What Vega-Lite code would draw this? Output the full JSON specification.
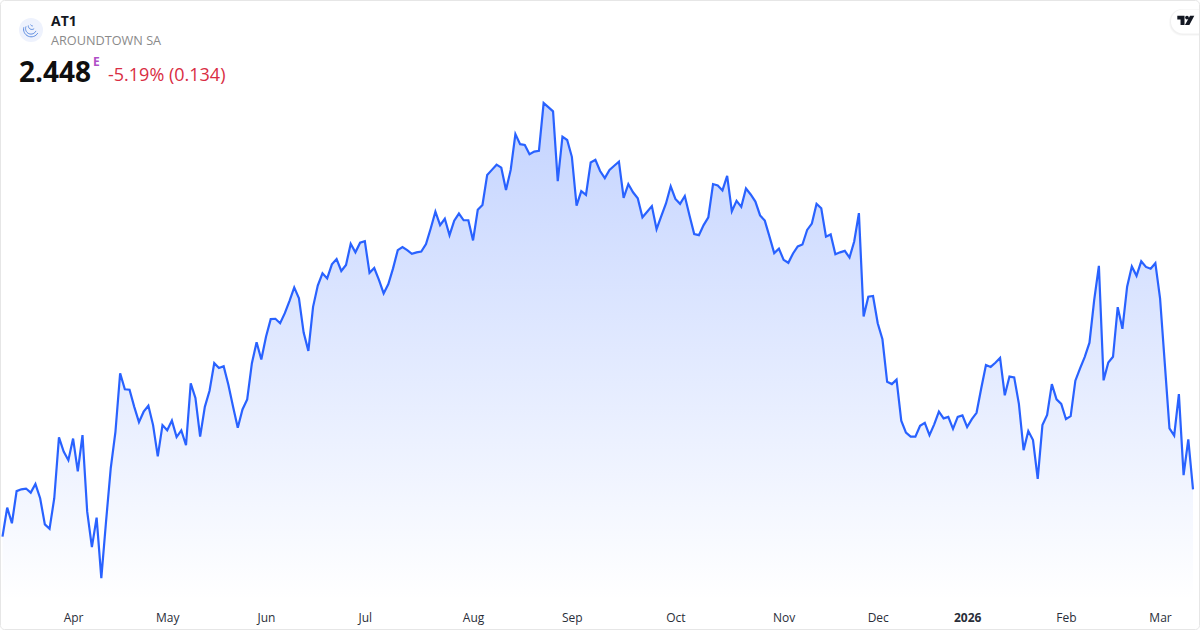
{"$schema":"https://vega.github.io/schema/vega-lite/v6.json","width":1200,"height":630,"padding":0,"autosize":{"type":"none"},"background":"white","config":{"view":{"stroke":null},"font":"Open Sans"},
"datasets":{"prices":[
{"date":"2025-03-11","close":2.321},{"date":"2025-03-12","close":2.399},{"date":"2025-03-13","close":2.357},{"date":"2025-03-14","close":2.443},{"date":"2025-03-17","close":2.448},{"date":"2025-03-18","close":2.45},{"date":"2025-03-19","close":2.439},{"date":"2025-03-20","close":2.462},{"date":"2025-03-21","close":2.424},{"date":"2025-03-24","close":2.354},{"date":"2025-03-25","close":2.342},{"date":"2025-03-26","close":2.424},{"date":"2025-03-27","close":2.587},{"date":"2025-03-28","close":2.549},{"date":"2025-03-31","close":2.526},
{"date":"2025-04-01","close":2.584},{"date":"2025-04-02","close":2.496},{"date":"2025-04-03","close":2.593},{"date":"2025-04-04","close":2.388},{"date":"2025-04-07","close":2.293},{"date":"2025-04-08","close":2.372},{"date":"2025-04-09","close":2.21},{"date":"2025-04-10","close":2.361},{"date":"2025-04-11","close":2.504},{"date":"2025-04-14","close":2.602},{"date":"2025-04-15","close":2.759},{"date":"2025-04-16","close":2.716},{"date":"2025-04-17","close":2.715},{"date":"2025-04-22","close":2.669},{"date":"2025-04-23","close":2.628},{"date":"2025-04-24","close":2.656},{"date":"2025-04-25","close":2.672},{"date":"2025-04-28","close":2.62},{"date":"2025-04-29","close":2.536},{"date":"2025-04-30","close":2.62},
{"date":"2025-05-02","close":2.606},{"date":"2025-05-05","close":2.632},{"date":"2025-05-06","close":2.588},{"date":"2025-05-07","close":2.606},{"date":"2025-05-08","close":2.566},{"date":"2025-05-09","close":2.732},{"date":"2025-05-12","close":2.693},{"date":"2025-05-13","close":2.589},{"date":"2025-05-14","close":2.669},{"date":"2025-05-15","close":2.712},{"date":"2025-05-16","close":2.786},{"date":"2025-05-19","close":2.773},{"date":"2025-05-20","close":2.778},{"date":"2025-05-21","close":2.728},{"date":"2025-05-22","close":2.669},{"date":"2025-05-23","close":2.613},{"date":"2025-05-26","close":2.662},{"date":"2025-05-27","close":2.689},{"date":"2025-05-28","close":2.786},{"date":"2025-05-29","close":2.842},{"date":"2025-05-30","close":2.796},
{"date":"2025-06-02","close":2.857},{"date":"2025-06-03","close":2.904},{"date":"2025-06-04","close":2.905},{"date":"2025-06-05","close":2.893},{"date":"2025-06-06","close":2.92},{"date":"2025-06-09","close":2.953},{"date":"2025-06-10","close":2.989},{"date":"2025-06-11","close":2.96},{"date":"2025-06-12","close":2.868},{"date":"2025-06-13","close":2.819},{"date":"2025-06-16","close":2.937},{"date":"2025-06-17","close":2.994},{"date":"2025-06-18","close":3.027},{"date":"2025-06-19","close":3.013},{"date":"2025-06-20","close":3.051},{"date":"2025-06-23","close":3.065},{"date":"2025-06-24","close":3.033},{"date":"2025-06-25","close":3.049},{"date":"2025-06-26","close":3.106},{"date":"2025-06-27","close":3.083},{"date":"2025-06-30","close":3.109},
{"date":"2025-07-01","close":3.113},{"date":"2025-07-02","close":3.028},{"date":"2025-07-03","close":3.041},{"date":"2025-07-04","close":3.009},{"date":"2025-07-07","close":2.973},{"date":"2025-07-08","close":2.998},{"date":"2025-07-09","close":3.04},{"date":"2025-07-10","close":3.089},{"date":"2025-07-11","close":3.097},{"date":"2025-07-14","close":3.089},{"date":"2025-07-15","close":3.079},{"date":"2025-07-16","close":3.083},{"date":"2025-07-17","close":3.085},{"date":"2025-07-18","close":3.105},{"date":"2025-07-21","close":3.147},{"date":"2025-07-22","close":3.192},{"date":"2025-07-23","close":3.156},{"date":"2025-07-24","close":3.173},{"date":"2025-07-25","close":3.129},{"date":"2025-07-28","close":3.168},{"date":"2025-07-29","close":3.187},{"date":"2025-07-30","close":3.169},{"date":"2025-07-31","close":3.169},
{"date":"2025-08-01","close":3.115},{"date":"2025-08-04","close":3.197},{"date":"2025-08-05","close":3.21},{"date":"2025-08-06","close":3.29},{"date":"2025-08-07","close":3.304},{"date":"2025-08-08","close":3.318},{"date":"2025-08-11","close":3.31},{"date":"2025-08-12","close":3.25},{"date":"2025-08-13","close":3.304},{"date":"2025-08-14","close":3.4},{"date":"2025-08-15","close":3.373},{"date":"2025-08-18","close":3.371},{"date":"2025-08-19","close":3.346},{"date":"2025-08-20","close":3.353},{"date":"2025-08-21","close":3.355},{"date":"2025-08-22","close":3.483},{"date":"2025-08-25","close":3.472},{"date":"2025-08-26","close":3.461},{"date":"2025-08-27","close":3.274},{"date":"2025-08-28","close":3.393},{"date":"2025-08-29","close":3.384},
{"date":"2025-09-01","close":3.339},{"date":"2025-09-02","close":3.208},{"date":"2025-09-03","close":3.247},{"date":"2025-09-04","close":3.237},{"date":"2025-09-05","close":3.324},{"date":"2025-09-08","close":3.331},{"date":"2025-09-09","close":3.301},{"date":"2025-09-10","close":3.282},{"date":"2025-09-11","close":3.304},{"date":"2025-09-12","close":3.315},{"date":"2025-09-15","close":3.326},{"date":"2025-09-16","close":3.229},{"date":"2025-09-17","close":3.266},{"date":"2025-09-18","close":3.244},{"date":"2025-09-19","close":3.228},{"date":"2025-09-22","close":3.177},{"date":"2025-09-23","close":3.192},{"date":"2025-09-24","close":3.207},{"date":"2025-09-25","close":3.145},{"date":"2025-09-26","close":3.18},{"date":"2025-09-29","close":3.214},{"date":"2025-09-30","close":3.26},
{"date":"2025-10-01","close":3.226},{"date":"2025-10-02","close":3.213},{"date":"2025-10-03","close":3.234},{"date":"2025-10-06","close":3.182},{"date":"2025-10-07","close":3.132},{"date":"2025-10-08","close":3.129},{"date":"2025-10-09","close":3.156},{"date":"2025-10-10","close":3.177},{"date":"2025-10-13","close":3.266},{"date":"2025-10-14","close":3.262},{"date":"2025-10-15","close":3.249},{"date":"2025-10-16","close":3.288},{"date":"2025-10-17","close":3.193},{"date":"2025-10-20","close":3.221},{"date":"2025-10-21","close":3.205},{"date":"2025-10-22","close":3.254},{"date":"2025-10-23","close":3.238},{"date":"2025-10-24","close":3.219},{"date":"2025-10-27","close":3.182},{"date":"2025-10-28","close":3.168},{"date":"2025-10-29","close":3.125},{"date":"2025-10-30","close":3.081},{"date":"2025-10-31","close":3.093},
{"date":"2025-11-03","close":3.063},{"date":"2025-11-04","close":3.055},{"date":"2025-11-05","close":3.08},{"date":"2025-11-06","close":3.099},{"date":"2025-11-07","close":3.104},{"date":"2025-11-10","close":3.143},{"date":"2025-11-11","close":3.16},{"date":"2025-11-12","close":3.213},{"date":"2025-11-13","close":3.201},{"date":"2025-11-14","close":3.125},{"date":"2025-11-17","close":3.131},{"date":"2025-11-18","close":3.078},{"date":"2025-11-19","close":3.083},{"date":"2025-11-20","close":3.087},{"date":"2025-11-21","close":3.069},{"date":"2025-11-24","close":3.112},{"date":"2025-11-25","close":3.188},{"date":"2025-11-26","close":2.911},{"date":"2025-11-27","close":2.964},{"date":"2025-11-28","close":2.966},
{"date":"2025-12-01","close":2.893},{"date":"2025-12-02","close":2.85},{"date":"2025-12-03","close":2.736},{"date":"2025-12-04","close":2.73},{"date":"2025-12-05","close":2.742},{"date":"2025-12-08","close":2.632},{"date":"2025-12-09","close":2.6},{"date":"2025-12-10","close":2.589},{"date":"2025-12-11","close":2.589},{"date":"2025-12-12","close":2.618},{"date":"2025-12-15","close":2.626},{"date":"2025-12-16","close":2.593},{"date":"2025-12-17","close":2.622},{"date":"2025-12-18","close":2.656},{"date":"2025-12-19","close":2.638},{"date":"2025-12-22","close":2.642},{"date":"2025-12-23","close":2.61},{"date":"2025-12-29","close":2.642},{"date":"2025-12-30","close":2.646},
{"date":"2026-01-02","close":2.615},{"date":"2026-01-05","close":2.636},{"date":"2026-01-06","close":2.653},{"date":"2026-01-07","close":2.719},{"date":"2026-01-08","close":2.781},{"date":"2026-01-09","close":2.776},{"date":"2026-01-12","close":2.787},{"date":"2026-01-13","close":2.8},{"date":"2026-01-14","close":2.7},{"date":"2026-01-15","close":2.75},{"date":"2026-01-16","close":2.748},{"date":"2026-01-19","close":2.677},{"date":"2026-01-20","close":2.553},{"date":"2026-01-21","close":2.604},{"date":"2026-01-22","close":2.58},{"date":"2026-01-23","close":2.476},{"date":"2026-01-26","close":2.62},{"date":"2026-01-27","close":2.647},{"date":"2026-01-28","close":2.73},{"date":"2026-01-29","close":2.689},{"date":"2026-01-30","close":2.677},
{"date":"2026-02-02","close":2.636},{"date":"2026-02-03","close":2.644},{"date":"2026-02-04","close":2.739},{"date":"2026-02-05","close":2.772},{"date":"2026-02-06","close":2.803},{"date":"2026-02-09","close":2.841},{"date":"2026-02-10","close":2.955},{"date":"2026-02-11","close":3.047},{"date":"2026-02-12","close":2.74},{"date":"2026-02-13","close":2.788},{"date":"2026-02-16","close":2.803},{"date":"2026-02-17","close":2.936},{"date":"2026-02-18","close":2.878},{"date":"2026-02-19","close":2.991},{"date":"2026-02-20","close":3.045},{"date":"2026-02-23","close":3.02},{"date":"2026-02-24","close":3.059},{"date":"2026-02-25","close":3.044},{"date":"2026-02-26","close":3.039},{"date":"2026-02-27","close":3.054},
{"date":"2026-03-02","close":2.96},{"date":"2026-03-03","close":2.786},{"date":"2026-03-04","close":2.611},{"date":"2026-03-05","close":2.592},{"date":"2026-03-06","close":2.703},{"date":"2026-03-09","close":2.486},{"date":"2026-03-10","close":2.582},{"date":"2026-03-11","close":2.448}
]},
"layer":[
{"data":{"name":"prices"},"mark":{"type":"area","line":false,"fill":{"x1":0,"y1":0,"x2":0,"y2":1,"gradient":"linear","stops":[{"offset":0,"color":"rgba(41,98,255,0.28)"},{"offset":1,"color":"rgba(41,98,255,0)"}]}},
"encoding":{"x":{"field":"date","type":"ordinal","sort":null,"scale":{"type":"point","range":[2.5,1193],"padding":0},"title":null,"axis":{"values":["2025-04-01","2025-05-02","2025-06-02","2025-07-01","2025-08-01","2025-09-01","2025-10-01","2025-11-03","2025-12-01","2026-01-02","2026-02-02","2026-03-02"],"labelExpr":"slice(datum.value,5,7)=='01' ? '2026' : monthAbbrevFormat(toNumber(slice(datum.value,5,7))-1)","labelFontWeight":{"condition":{"test":"slice(datum.value,5,7)=='01'","value":"bold"},"value":"normal"},"labelAngle":0,"labelFontSize":12,"labelColor":"#2a2e39","labelPadding":12,"offset":-30,"domain":false,"ticks":false,"grid":false,"labelOverlap":false,"labelFlush":false,"labelFont":"Open Sans"}},
"y":{"field":"close","type":"quantitative","scale":{"domain":[2.1513,3.7593],"range":[600,0],"zero":false,"nice":false},"axis":null},
"y2":{"datum":2.1513}}},
{"data":{"name":"prices"},"mark":{"type":"line","stroke":"#2962ff","strokeWidth":2.2,"interpolate":"linear","strokeJoin":"miter"},
"encoding":{"x":{"field":"date","type":"ordinal","sort":null},"y":{"field":"close","type":"quantitative"}}},
{"data":{"values":[{"t":"AT1"}]},"mark":{"type":"text","x":51,"y":26,"align":"left","baseline":"alphabetic","fontSize":14,"fontWeight":"bold","fill":"#131722","font":"Open Sans"},"encoding":{"text":{"field":"t"}}},
{"data":{"values":[{"t":"AROUNDTOWN SA"}]},"mark":{"type":"text","x":51,"y":45,"align":"left","baseline":"alphabetic","fontSize":12.7,"fill":"#8a8a8a","font":"Open Sans"},"encoding":{"text":{"field":"t"}}},
{"data":{"values":[{"t":"2.448"}]},"mark":{"type":"text","x":19,"y":81.5,"align":"left","baseline":"alphabetic","fontSize":28,"fontWeight":"bold","fill":"#0f0f0f","font":"Open Sans"},"encoding":{"text":{"field":"t"}}},
{"data":{"values":[{"t":"E"}]},"mark":{"type":"text","x":93,"y":66,"align":"left","baseline":"alphabetic","fontSize":12,"fontWeight":"bold","fill":"#b04fc7","font":"Open Sans"},"encoding":{"text":{"field":"t"}}},
{"data":{"values":[{"t":"-5.19% (0.134)"}]},"mark":{"type":"text","x":108,"y":81,"align":"left","baseline":"alphabetic","fontSize":18,"fill":"#d92d43","font":"Open Sans"},"encoding":{"text":{"field":"t"}}},
{"data":{"values":[{"k":"logo"}]},"mark":{"type":"point","x":31,"y":30,"shape":"circle","size":576,"filled":true,"fill":"#eef2fd","opacity":1,"stroke":null},"encoding":{}},
{"data":{"values":[{"k":"logo"}]},"mark":{"type":"point","x":31,"y":30,"shape":"M-.8 -.3A.85 .85 0 0 0 .75 .35M-.55 -.4A.6 .6 0 0 0 .55 .1M-.3 -.5A.4 .4 0 0 0 .35 -.15M-.05 -.6A.25 .25 0 0 0 .2 -.45","size":324,"filled":false,"stroke":"#5d8ce0","strokeWidth":1,"opacity":1},"encoding":{}},
{"data":{"values":[{"k":"pill"}]},"mark":{"type":"rect","fill":"black","opacity":0.025,"cornerRadius":13},"encoding":{"x":{"value":1169},"x2":{"value":1215},"y":{"value":9},"y2":{"value":36}}},
{"data":{"values":[{"k":"pill"}]},"mark":{"type":"rect","fill":"black","opacity":0.03,"cornerRadius":12},"encoding":{"x":{"value":1170},"x2":{"value":1215},"y":{"value":9},"y2":{"value":35}}},
{"data":{"values":[{"k":"pill"}]},"mark":{"type":"rect","fill":"white","cornerRadius":12},"encoding":{"x":{"value":1171},"x2":{"value":1215},"y":{"value":9.5},"y2":{"value":33.5}}},
{"data":{"values":[{"k":"tv"}]},"mark":{"type":"point","x":1185.8,"y":20.4,"shape":"M-1 -.55H-.15V.55H-.62V-.1H-1ZM-.08 -.33a.22 .22 0 1 0 .44 0a.22 .22 0 1 0 -.44 0ZM.5 -.55H1L.42 .55H-.1Z","size":289,"filled":true,"fill":"#131722","opacity":1,"stroke":null},"encoding":{}},
{"data":{"values":[{"k":"frame"}]},"mark":{"type":"rect","fill":null,"stroke":"#e6e6e6","strokeWidth":1,"cornerRadius":4},"encoding":{"x":{"value":0.5},"x2":{"value":1199.5},"y":{"value":0.5},"y2":{"value":629.5}}}
]}
